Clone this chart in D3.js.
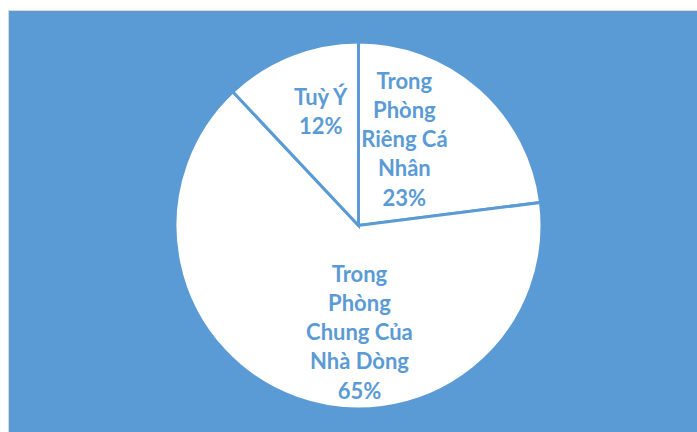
<!DOCTYPE html>
<html><head><meta charset="utf-8">
<script src="https://cdn.jsdelivr.net/npm/d3@7"></script>
<style>html,body{margin:0;padding:0;background:#fff;}svg{display:block;}</style>
</head><body>
<svg id="c" width="697" height="432"></svg>
<script>
// Data
const categories = ["Trong Phòng Riêng Cá Nhân", "Trong Phòng Chung Của Nhà Dòng", "Tuỳ Ý"];
const values = [23, 65, 12];
const labelLines = [
  ["Trong", "Phòng", "Riêng Cá", "Nhân", "23%"],
  ["Trong", "Phòng", "Chung Của", "Nhà Dòng", "65%"],
  ["Tuỳ Ý", "12%"]
];
// Layout config (label placement, polar: angle in degrees from 12 o'clock, radius fraction)
const labelPolar = [[28, 0.54], [179.5, 0.59], [-18.3, 0.665]];

const W = 697, H = 432;
const blue = "#5B9BD5";
const svg = d3.select("#c");
svg.append("rect").attr("x", 8.5).attr("y", 10.5).attr("width", W).attr("height", H)
  .attr("fill", blue).attr("stroke", "#d9d9d9").attr("stroke-width", 1);

const cx = 358.5, cy = 225.5, r = 183.5;
const g = svg.append("g").attr("transform", `translate(${cx},${cy})`);
const pie = d3.pie().sort(null).value(d => d)(values);
const arc = d3.arc().innerRadius(0).outerRadius(r);
g.selectAll("path").data(pie).join("path")
  .attr("d", arc).attr("fill", "#fff").attr("stroke", blue).attr("stroke-width", 3)
  .attr("stroke-linejoin", "miter");

const lh = 29.2;
pie.forEach((p, i) => {
  const [deg, f] = labelPolar[i];
  const a = deg * Math.PI / 180;
  const x = Math.sin(a) * 181 * f, y = -Math.cos(a) * 181 * f;
  const lines = labelLines[i];
  const t = g.append("text").attr("text-anchor", "middle")
    .attr("font-family", "Lato, 'Open Sans', sans-serif").attr("font-weight", "bold")
    .attr("font-size", 22).attr("fill", blue);
  lines.forEach((s, j) => {
    t.append("tspan").attr("x", x).attr("y", y + (j - (lines.length - 1) / 2) * lh + 8)
      .text(s);
  });
});
</script>
</body></html>
